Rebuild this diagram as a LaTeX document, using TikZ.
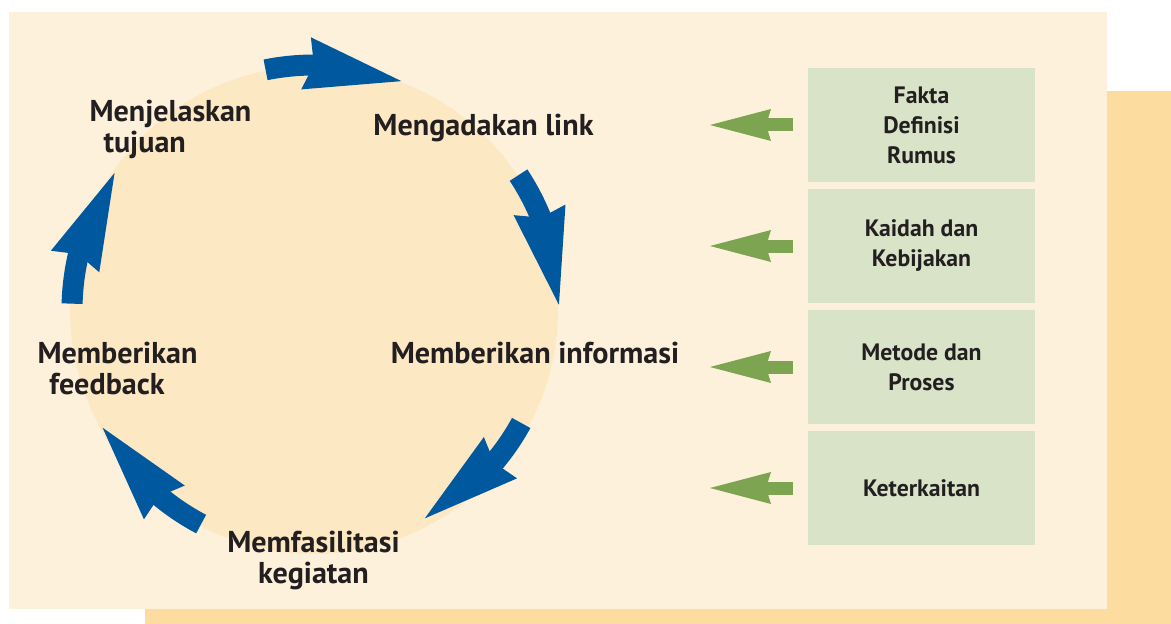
\documentclass[tikz,border=0pt]{standalone}
\usepackage{fontspec}
\setmainfont{PT Sans}
\usetikzlibrary{positioning,arrows.meta,bending}

\definecolor{paper}{RGB}{253,241,220}
\definecolor{peach}{RGB}{253,220,160}
\definecolor{disc}{RGB}{253,232,196}
\definecolor{cycleblue}{RGB}{0,88,158}
\definecolor{leafgreen}{RGB}{125,164,80}
\definecolor{boxgreen}{RGB}{216,227,200}
\definecolor{ink}{RGB}{35,31,32}

\tikzset{every picture/.style={line width=0.75pt}}
\tikzset{
  steplabel/.style={font=\fontsize{22.6}{23.25}\selectfont\bfseries, text=ink, inner sep=0pt},
  topicbox/.style={fill=boxgreen, minimum width=170.25pt, minimum height=85.5pt, inner sep=0pt, outer sep=0pt, align=center, font=\fontsize{17.8}{22.5}\selectfont\bfseries, text=ink},
  cyclearrow/.style={draw=cycleblue, line width=15.75pt, -{Stealth[length=72.75pt, width=39.75pt, inset=6pt, line width=0pt, flex]}},
  feedarrow/.style={draw=leafgreen, line width=9.75pt, shorten <=11.25pt, -{Stealth[length=45.75pt, width=24pt, inset=3.75pt, line width=0pt]}},
}

\begin{document}
\begin{tikzpicture}[x=0.75pt,y=0.75pt,yscale=-1,xscale=1]
\useasboundingbox (0,0) rectangle (1171,624);

%Backgrounds
\fill[peach] (145,91) rectangle (1171,624);
\fill[paper] (9,12) rectangle (1107,609);

%Circle
\coordinate (c) at (314,310);
\fill[disc] (c) circle[radius=244];

%Cycle arrows
\draw[cyclearrow] (c) ++(-178.5:242) arc[start angle=-178.5, end angle=-145.5, radius=242];
\draw[cyclearrow] (c) ++(-101.4:245) arc[start angle=-101.4, end angle=-69.1, radius=245];
\draw[cyclearrow] (c) ++(-33.4:245) arc[start angle=-33.4, end angle=-1.2, radius=245];
\draw[cyclearrow] (c) ++(28.6:236) arc[start angle=28.6, end angle=62, radius=236];
\draw[cyclearrow] (c) ++(117.8:242) arc[start angle=117.8, end angle=150.9, radius=242];

%Step labels
\node[steplabel, align=left, anchor=west] (tujuan) at (89,129) {Menjelaskan\\\hspace*{10.5pt}tujuan};
\node[steplabel] (link) at (483.5,128) {Mengadakan link};
\node[steplabel] (info) at (535,353) {Memberikan informasi};
\node[steplabel, align=left, anchor=west] (feedback) at (37,368) {Memberikan\\\hspace*{9pt}feedback};
\node[steplabel, align=center] (kegiatan) at (313.5,560) {Memfasilitasi\\kegiatan};

%Topic boxes
\node[topicbox] (fakta) at (921.5,125) {Fakta\\Definisi\\Rumus};
\node[topicbox, below=5.25pt of fakta] (kaidah) {Kaidah dan\\Kebijakan};
\node[topicbox, below=5.25pt of kaidah] (metode) {Metode dan\\Proses};
\node[topicbox, below=5.25pt of metode] (kait) {Keterkaitan};

%Green arrows
\draw[feedarrow] (fakta.west) -- ++(-98,0);
\draw[feedarrow] (kaidah.west) -- ++(-98,0);
\draw[feedarrow] (metode.west) -- ++(-98,0);
\draw[feedarrow] (kait.west) -- ++(-98,0);

\end{tikzpicture}
\end{document}
